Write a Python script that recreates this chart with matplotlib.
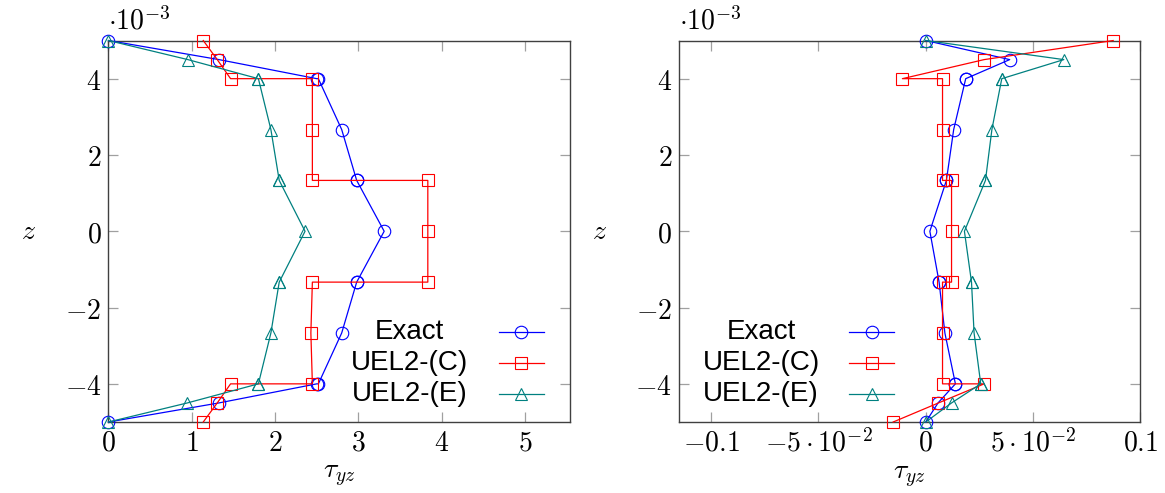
import matplotlib
matplotlib.use("Agg")
import matplotlib.pyplot as plt
from matplotlib.lines import Line2D
from matplotlib.ticker import FixedLocator, FuncFormatter
import numpy as np

plt.rcParams['mathtext.fontset'] = 'cm'

# z positions (three points per sub-layer, five sub-layers)
z = np.array([5, 4.5, 4, 4, 2.667, 1.333, 1.333, 0, -1.333, -1.333,
              -2.667, -4, -4, -4.5, -5]) * 1e-3

# left panel
exact_l = [0, 1.326, 2.50, 2.52, 2.80, 2.98, 2.98, 3.31, 2.98, 2.98, 2.80, 2.52, 2.50, 1.326, 0]
uel_c_l = [1.138, 1.306, 1.466, 2.448, 2.448, 2.448, 3.834, 3.834, 3.834, 2.448, 2.43, 2.448, 1.466, 1.306, 1.138]
uel_e_l = [0, 0.953, 1.80, 1.80, 1.95, 2.05, 2.05, 2.36, 2.05, 2.05, 1.95, 1.80, 1.80, 0.947, 0]

# right panel
exact_r = [0, 0.0391, 0.0186, 0.0186, 0.0130, 0.0096, 0.0096, 0.0019, 0.0062, 0.0062, 0.0089, 0.0138, 0.0138, 0.0057, 0]
uel_c_r = [0.0873, 0.0272, -0.0109, 0.0078, 0.0078, 0.0078, 0.0120, 0.0120, 0.0120, 0.0078, 0.0078, 0.0078, 0.0272, 0.0059, -0.0152]
uel_e_r = [0, 0.0643, 0.0354, 0.0354, 0.0308, 0.0278, 0.0278, 0.0180, 0.0213, 0.0213, 0.0225, 0.0256, 0.0256, 0.0120, 0]

labels = ['Exact', 'UEL2-(C)', 'UEL2-(E)']
colors = ['#0000ff', '#ff0000', '#008080']
markers = ['o', 's', '^']
msizes = [9, 9, 8]

yticks = [-4e-3, -2e-3, 0, 2e-3, 4e-3]
xticks_l = [0, 1, 2, 3, 4, 5]
xticks_r = [-0.1, -0.05, 0, 0.05, 0.1]
xlabels_r = [r'$-0.1$', r'$-5\cdot10^{-2}$', r'$0$', r'$5\cdot10^{-2}$', r'$0.1$']

FS = 20

fig = plt.figure(figsize=(11.65, 4.93), dpi=100)
ax1 = fig.add_axes([0.0931, 0.1440, 0.3961, 0.7738])
ax2 = fig.add_axes([0.5828, 0.1440, 0.3961, 0.7738])


def style(ax):
    for s in ax.spines.values():
        s.set_color('#404040')
        s.set_linewidth(1.0)
    ax.tick_params(direction='in', length=7, width=0.9, color='#a0a0a0',
                   top=True, right=True, labelsize=FS, pad=5)
    ax.set_ylim(-5e-3, 5e-3)
    ax.yaxis.set_major_locator(FixedLocator(yticks))
    ax.yaxis.set_major_formatter(FuncFormatter(lambda v, p: '$%d$' % round(v * 1e3)))
    ax.text(0.0, 1.012, r'$\cdot10^{-3}$', transform=ax.transAxes, ha='left',
            va='bottom', fontsize=FS)
    ax.set_xlabel(r'$\tau_{yz}$', fontsize=FS, labelpad=3)
    ax.set_ylabel(r'$z$', fontsize=FS, rotation=0, labelpad=26, va='center')


def key(ax, xt, xm):
    ys = [0.237, 0.155, 0.073]
    hw = 0.049
    for lab, c, m, ms, y in zip(labels, colors, markers, msizes, ys):
        ax.text(xt, y, lab, transform=ax.transAxes, ha='center', va='center',
                fontsize=20, family='Liberation Sans')
        ax.add_line(Line2D([xm - hw, xm, xm + hw], [y, y, y], transform=ax.transAxes,
                           color=c, lw=0.9, marker=m, markevery=[1], ms=ms,
                           mfc='none', mec=c, mew=0.8))


for ax, series in [(ax1, [exact_l, uel_c_l, uel_e_l]), (ax2, [exact_r, uel_c_r, uel_e_r])]:
    for x, c, m, ms in zip(series, colors, markers, msizes):
        ax.plot(x, z, color=c, lw=0.9, marker=m, ms=ms, mfc='none', mec=c,
                mew=0.8, clip_on=False, zorder=3)
    style(ax)

ax1.set_xlim(0, 5.54)
ax1.xaxis.set_major_locator(FixedLocator(xticks_l))
ax1.xaxis.set_major_formatter(FuncFormatter(lambda v, p: '$%d$' % round(v)))

ax2.set_xlim(-0.115, 0.1)
ax2.set_xticks(xticks_r)
ax2.set_xticklabels(xlabels_r)

key(ax1, 0.653, 0.895)
key(ax2, 0.178, 0.4175)

fig.savefig('out.png', dpi=100)
